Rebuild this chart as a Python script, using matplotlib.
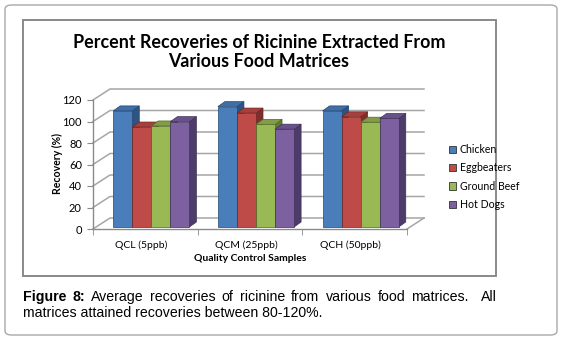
import matplotlib
matplotlib.use("Agg")
import matplotlib.pyplot as plt
from matplotlib.patches import Rectangle, Polygon, FancyBboxPatch, Patch
from matplotlib.transforms import ScaledTranslation

# data
categories = ["QCL (5ppb)", "QCM (25ppb)", "QCH (50ppb)"]
series = ["Chicken", "Eggbeaters", "Ground Beef", "Hot Dogs"]
chicken = [108, 112, 108]
eggbeaters = [93, 106, 102.5]
ground_beef = [94, 95.5, 97.5]
hot_dogs = [98, 91, 101]
yticks = [0, 20, 40, 60, 80, 100, 120]

values = [chicken, eggbeaters, ground_beef, hot_dogs]
front_c = ["#4A7EBB", "#BE4B48", "#98B954", "#7D60A0"]
top_c = ["#3F6EA8", "#A83F3C", "#819E46", "#69518B"]
side_c = ["#2E5483", "#7E2E2C", "#617A32", "#4D3C6A"]
edge_c = ["#254672", "#6E2725", "#52682A", "#3F3158"]

W, H = 563, 340
fig = plt.figure(figsize=(W / 100, H / 100), dpi=100)


def px(x, y):
    return x / W, 1 - y / H


# outer rounded box and chart frame
fig.patches.append(FancyBboxPatch(px(5, 335), 552 / W, 330 / H,
                                  boxstyle="round,pad=0,rounding_size=0.012",
                                  transform=fig.transFigure, fc="white",
                                  ec="#a8a8a8", lw=1.0, zorder=-10))
fig.patches.append(Rectangle(px(23, 276), 473 / W, 256 / H, transform=fig.transFigure,
                             fc="white", ec="#8a8a8a", lw=1.4, zorder=-9))

# front plane of the 3D plot
x0, x1, ytop, ybot = 93, 407, 100, 229
ax = fig.add_axes([x0 / W, 1 - ybot / H, (x1 - x0) / W, (ybot - ytop) / H])
ax.set_xlim(-0.5, 2.5)
ax.set_ylim(0, 120)
ax.patch.set_alpha(0)
kx = 3 / (x1 - x0)      # data units per pixel
ky = 120 / (ybot - ytop)

# back wall + left wall gridlines
bx, by = 17 * kx, 11 * ky
grid_col = "#a6a6a6"
for v in yticks:
    ax.plot([-0.5, -0.5 + bx, 2.5 + bx], [v, v + by, v + by], color=grid_col,
            lw=1.1, clip_on=False, zorder=1)
ax.plot([2.5, 2.5 + bx], [0, by], color=grid_col, lw=1.1, clip_on=False, zorder=1)

# 3D bars
w = 0.182
fx, fy = 6 * kx, 2 * ky     # bar front plane offset
dx, dy = 7 * kx, 5 * ky     # bar depth
for g in range(len(categories)):
    for i in range(len(series)):
        v = values[i][g]
        left = g - 2 * w + i * w + fx
        right = left + w
        z = 3 + i
        ax.add_patch(Polygon([(right, fy), (right + dx, fy + dy), (right + dx, v + fy + dy),
                              (right, v + fy)], fc=side_c[i], ec=edge_c[i], lw=0.5,
                             clip_on=False, zorder=z))
        ax.add_patch(Polygon([(left, v + fy), (left + dx, v + fy + dy),
                              (right + dx, v + fy + dy), (right, v + fy)],
                             fc=top_c[i], ec=edge_c[i], lw=0.5, clip_on=False, zorder=z))
        ax.add_patch(Rectangle((left, fy), w, v, fc=front_c[i], ec=edge_c[i], lw=0.5,
                               clip_on=False, zorder=z))

# axes styling
for s in ["top", "right"]:
    ax.spines[s].set_visible(False)
for s in ["left", "bottom"]:
    ax.spines[s].set_color("#8a8a8a")
    ax.spines[s].set_linewidth(1.0)
ax.set_yticks(yticks)
ax.set_yticklabels([str(t) for t in yticks], fontsize=8, family="Lato")
ax.tick_params(axis="y", length=4, color="#8a8a8a", pad=4)
ax.set_xticks(range(len(categories)))
ax.set_xticklabels(categories, fontsize=7.5, family="Lato")
ax.set_xticks([-0.5, 0.5, 1.5, 2.5], minor=True)
ax.tick_params(axis="x", which="major", length=0, pad=8)
ax.tick_params(axis="x", which="minor", length=4, color="#8a8a8a")
for lab in ax.get_xticklabels():
    lab.set_transform(lab.get_transform() + ScaledTranslation(-0.04, 0, fig.dpi_scale_trans))

ax.set_ylabel("Recovery (%)", fontsize=7.6, fontweight="bold", family="Lato")
ax.yaxis.set_label_coords(-0.097, 0.51)
ax.set_xlabel("Quality Control Samples", fontsize=7.5, fontweight="bold", family="Lato",
              labelpad=3)

# title
fig.text(*px(259, 52), "Percent Recoveries of Ricinine Extracted From\nVarious Food Matrices",
         ha="center", va="center", fontsize=12.9, fontweight="bold", family="Lato",
         linespacing=1.2)

# legend
handles = [Patch(fc=front_c[i], ec="#333333", lw=0.6) for i in range(len(series))]
fig.legend(handles, series, loc="upper left", bbox_to_anchor=px(449, 144), frameon=False,
           prop={"family": "Lato", "size": 7.6}, handlelength=0.7, handleheight=0.7,
           handletextpad=0.3, labelspacing=0.7, borderaxespad=0, borderpad=0)

# caption (justified first line)
renderer = fig.canvas.get_renderer()
line1 = [("Figure", True), ("8:", True), ("Average", False), ("recoveries", False),
         ("of", False), ("ricinine", False), ("from", False), ("various", False),
         ("food", False), ("matrices.", False), ("All", False)]
cap_fs = 10.2
texts = []
for word, bold in line1:
    t = fig.text(0, 1 - 297 / H, word, fontsize=cap_fs, family="Liberation Sans",
                 fontweight="bold" if bold else "normal", va="center", ha="left")
    texts.append(t)
widths = [t.get_window_extent(renderer).width for t in texts]
weights = [1] * (len(texts) - 2) + [2]
gap = (497 - 23 - sum(widths)) / sum(weights)
xpos = 23
for k, t in enumerate(texts):
    t.set_x(xpos / W)
    xpos += widths[k]
    if k < len(weights):
        xpos += gap * weights[k]
fig.text(23 / W, 1 - 313 / H, "matrices attained recoveries between 80-120%.", fontsize=cap_fs,
         family="Liberation Sans", va="center", ha="left")

fig.savefig("out.png", dpi=100)
